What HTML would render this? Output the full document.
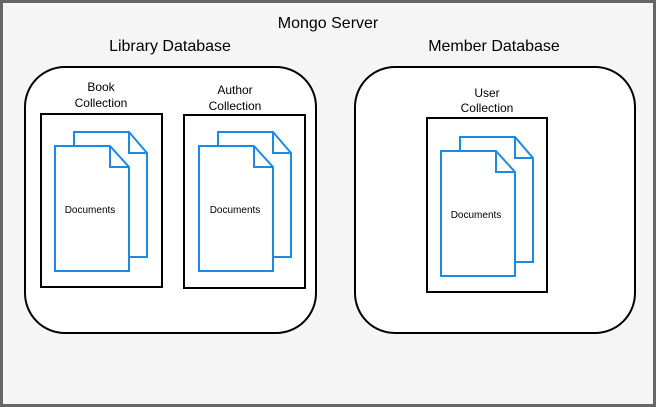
<!DOCTYPE html>
<html><head><style>
body{margin:0;background:#fff}
svg{display:block}
text{font-family:"Liberation Sans",Arial,sans-serif;fill:#000}
</style></head><body>
<svg width="656" height="407" viewBox="0 0 656 407" xmlns="http://www.w3.org/2000/svg">
<rect x="1.5" y="1.5" width="653" height="404" fill="#f5f5f5" stroke="#666" stroke-width="3"/>
<text x="328" y="28" font-size="16" text-anchor="middle">Mongo Server</text>
<text x="170" y="51" font-size="16" text-anchor="middle">Library Database</text>
<text x="494" y="51" font-size="16" text-anchor="middle">Member Database</text>
<rect x="25" y="67" width="291" height="266" rx="40" fill="#fff" stroke="#000" stroke-width="2"/>
<rect x="355" y="67" width="280" height="266" rx="40" fill="#fff" stroke="#000" stroke-width="2"/>
<g font-size="12" text-anchor="middle">
<text x="101" y="91">Book</text><text x="101" y="107">Collection</text>
<text x="235" y="94">Author</text><text x="235" y="110">Collection</text>
<text x="487" y="97">User</text><text x="487" y="112">Collection</text>
</g>
<g fill="none" stroke="#000" stroke-width="2">
<rect x="41" y="114" width="121" height="173"/>
<rect x="184" y="115" width="121" height="173"/>
<rect x="427" y="118" width="120" height="174"/>
</g>
<defs>
<g id="docs">
<path d="M19 0 H74 L92 21 V125 H19 Z" fill="#fff" stroke="#1e88e5" stroke-width="2"/>
<path d="M74 0 V21 H92" fill="none" stroke="#1e88e5" stroke-width="2"/>
<path d="M0 14 H55 L74 35 V139 H0 Z" fill="#fff" stroke="#1e88e5" stroke-width="2"/>
<path d="M55 14 V35 H74" fill="none" stroke="#1e88e5" stroke-width="2"/>
</g>
</defs>
<use href="#docs" x="55" y="132"/>
<use href="#docs" x="199" y="132"/>
<use href="#docs" x="441" y="137"/>
<g font-size="10" text-anchor="middle">
<text x="90" y="213">Documents</text>
<text x="235" y="213">Documents</text>
<text x="476" y="218">Documents</text>
</g>
</svg>
</body></html>
